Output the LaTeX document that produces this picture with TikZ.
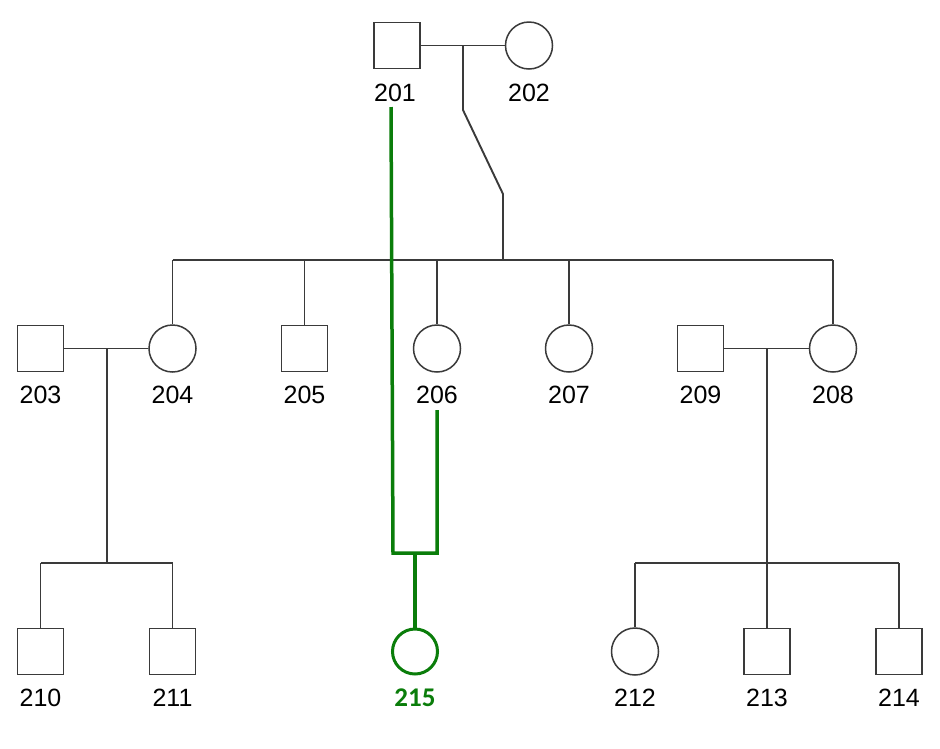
\documentclass[tikz,border=0pt]{standalone}
\usepackage{fontspec}
\setmainfont{Liberation Sans}
\newfontfamily\calfont{Carlito}
\definecolor{lin}{HTML}{3A3A3A}
\definecolor{grn}{HTML}{0A7D0A}
\begin{document}
\begin{tikzpicture}[x=1pt,y=-1pt,
  male/.style={draw=lin,line width=1.7pt,rectangle,minimum size=46pt,inner sep=0pt},
  female/.style={draw=lin,line width=1.5pt,circle,minimum size=47pt,inner sep=0pt},
  lab/.style={inner sep=0pt,font=\fontsize{25}{30}\selectfont},
  ln/.style={draw=lin,line width=1.9pt},
  gl/.style={draw=grn,line width=3.5pt,line join=miter}]
\useasboundingbox[fill=white] (0,0) rectangle (940,748);
% generation I
\node[male] (s201) at (397,45.5) {};
\node[female] (s202) at (529,45.5) {};
\node[lab] (l201) at (395,92.5) {201};
\node[lab] (l202) at (529,92.5) {202};
% generation II
\node[male] (s203) at (40.5,348.5) {};
\node[female] (s204) at (172.5,348.5) {};
\node[male] (s205) at (304.5,348.5) {};
\node[female] (s206) at (437,348.5) {};
\node[female] (s207) at (569,348.5) {};
\node[male] (s209) at (700.5,348.5) {};
\node[female] (s208) at (833,348.5) {};
\foreach \n/\x in {203/40.5,204/172.5,205/304.5,206/437,207/569,209/700.5,208/833}
  \node[lab] (l\n) at (\x,394.5) {\n};
% generation III
\node[male] (s210) at (40.5,651.5) {};
\node[male] (s211) at (172.5,651.5) {};
\node[female,draw=grn,line width=3pt,minimum size=45pt] (s215) at (415,651.5) {};
\node[female] (s212) at (635,651.5) {};
\node[male] (s213) at (767,651.5) {};
\node[male] (s214) at (899,651.5) {};
\foreach \n/\x in {210/40.5,211/172.5,212/635,213/767,214/899}
  \node[lab] (l\n) at (\x,697.5) {\n};
\node[inner sep=0pt,text=grn,font=\calfont\bfseries\fontsize{27}{32}\selectfont] (l215) at (415,697.5) {215};
% coordinates
\coordinate (m1) at (463,45.5);
\coordinate (b1) at (463,110);
\coordinate (b2) at (503,194);
\coordinate (sb) at (503,260);
\coordinate (sibL) at (172.5,260);
\coordinate (sibR) at (833,260);
\coordinate (m2) at (107,348.5);
\coordinate (s2) at (107,563);
\coordinate (s2L) at (40.5,563);
\coordinate (s2R) at (172.5,563);
\coordinate (m3) at (767,348.5);
\coordinate (s3) at (767,563);
\coordinate (s3L) at (635,563);
\coordinate (s3R) at (899,563);
% black lines
\draw[ln] (s201.east) -- (s202.west);
\draw[ln] (m1) -- (b1) -- (b2) -- (sb);
\draw[ln] (sibL) -- (sibR);
\draw[ln] (sibL) -- (s204.north);
\draw[ln] (s205.north |- sibL) -- (s205.north);
\draw[ln] (s206.north |- sibL) -- (s206.north);
\draw[ln] (s207.north |- sibL) -- (s207.north);
\draw[ln] (sibR) -- (s208.north);
\draw[ln] (s203.east) -- (s204.west);
\draw[ln] (m2) -- (s2);
\draw[ln] (s2L) -- (s2R);
\draw[ln] (s2L) -- (s210.north);
\draw[ln] (s2R) -- (s211.north);
\draw[ln] (s209.east) -- (s208.west);
\draw[ln] (m3) -- (s3);
\draw[ln] (s3L) -- (s3R);
\draw[ln] (s3L) -- (s212.north);
\draw[ln] (s3) -- (s213.north);
\draw[ln] (s3R) -- (s214.north);
% green consanguinity line
\coordinate (g1) at (391,107);
\coordinate (g2) at (393,553);
\coordinate (g3) at (437,553);
\coordinate (g4) at (437,410);
\coordinate (gm) at (415,553);
\draw[gl] (g1) -- (g2) -- (g3) -- (g4);
\draw[gl] (gm) -- (s215.north);
\end{tikzpicture}
\end{document}
